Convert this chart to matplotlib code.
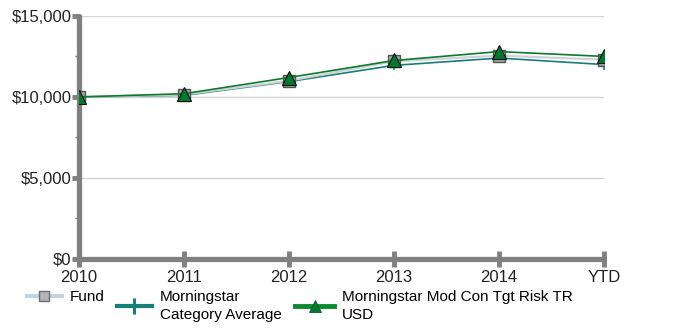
import numpy as np
import matplotlib.pyplot as plt
from matplotlib.lines import Line2D
from matplotlib.ticker import FuncFormatter, MultipleLocator

plt.rcParams['font.family'] = ['Liberation Sans Narrow', 'Liberation Sans', 'DejaVu Sans']
plt.rcParams['font.size'] = 11

years = ["2010", "2011", "2012", "2013", "2014", "YTD"]
fund = [10000, 10150, 11000, 12200, 12550, 12300]
category_avg = [10000, 10100, 10950, 11950, 12400, 12000]
benchmark = [10000, 10200, 11200, 12250, 12800, 12500]

labels = ["Fund", "Morningstar\nCategory Average",
          "Morningstar Mod Con Tgt Risk TR\nUSD"]

axis_grey = "#808080"

fig = plt.figure(figsize=(6.82, 3.28), dpi=100)
ax = fig.add_axes([0.1158, 0.2104, 0.77, 0.741])

x = np.arange(len(years))
ax.plot(x, category_avg, color="#177f78", lw=1.2, marker="+", ms=7, mew=1.2, zorder=3)
ax.plot(x, fund, color="#cfd3d8", lw=1.6, marker="s", ms=9, mfc="#a3a3a3",
        mec="#555555", mew=1, zorder=4)
ax.plot(x, benchmark, color="#0b7a2a", lw=1.2, marker="^", ms=10, mfc="#007a2e",
        mec="#111111", mew=0.8, zorder=5)

ax.set_xlim(0, 5)
ax.set_ylim(0, 15000)
ax.set_xticks(x)
ax.set_xticklabels(years)
ax.yaxis.set_major_locator(MultipleLocator(5000))
ax.yaxis.set_minor_locator(MultipleLocator(2500))
ax.yaxis.set_major_formatter(FuncFormatter(lambda v, p: f"${v:,.0f}"))

for s in ["top", "right"]:
    ax.spines[s].set_visible(False)
for s in ["left", "bottom"]:
    ax.spines[s].set_color(axis_grey)
    ax.spines[s].set_linewidth(3.8)
    ax.spines[s].set_capstyle("round")

ax.tick_params(axis="y", which="major", direction="out", length=5, width=3.5,
               color=axis_grey, pad=0.5, labelsize=12, labelcolor="#222222")
ax.tick_params(axis="y", which="minor", direction="out", length=3, width=1,
               color=axis_grey)
ax.tick_params(axis="x", which="major", direction="inout", length=12, width=3.5,
               color=axis_grey, pad=2, labelsize=12, labelcolor="#222222")

for v in (5000, 10000, 15000):
    ax.axhline(v, color="#d4d4d4", lw=1, zorder=1)

# legend keys are drawn heavier than the plotted lines
keys = [
    Line2D([], [], color="#c8d2dc", lw=3, marker="s", ms=7, mfc="#b4b4b4",
           mec="#6e6e6e", mew=1),
    Line2D([], [], color="#177f78", lw=3, marker="+", ms=12, mew=2.2),
    Line2D([], [], color="#0a8a2e", lw=3.5, marker="^", ms=9, mfc="#007a2e",
           mec="#0a5a20", mew=0.6),
]
# one legend per series so each entry sits at its own column
for key, label, x0, hl in zip(keys, labels, [0.019, 0.151, 0.412], [2.3, 2.3, 2.6]):
    leg = fig.legend([key], [label], loc="upper left", bbox_to_anchor=(x0, 0.158),
                     frameon=False, handlelength=hl, handletextpad=0.5,
                     fontsize=11)
    for t in leg.get_texts():
        t.set_linespacing(1.4)

fig.savefig("out.png", dpi=100)
